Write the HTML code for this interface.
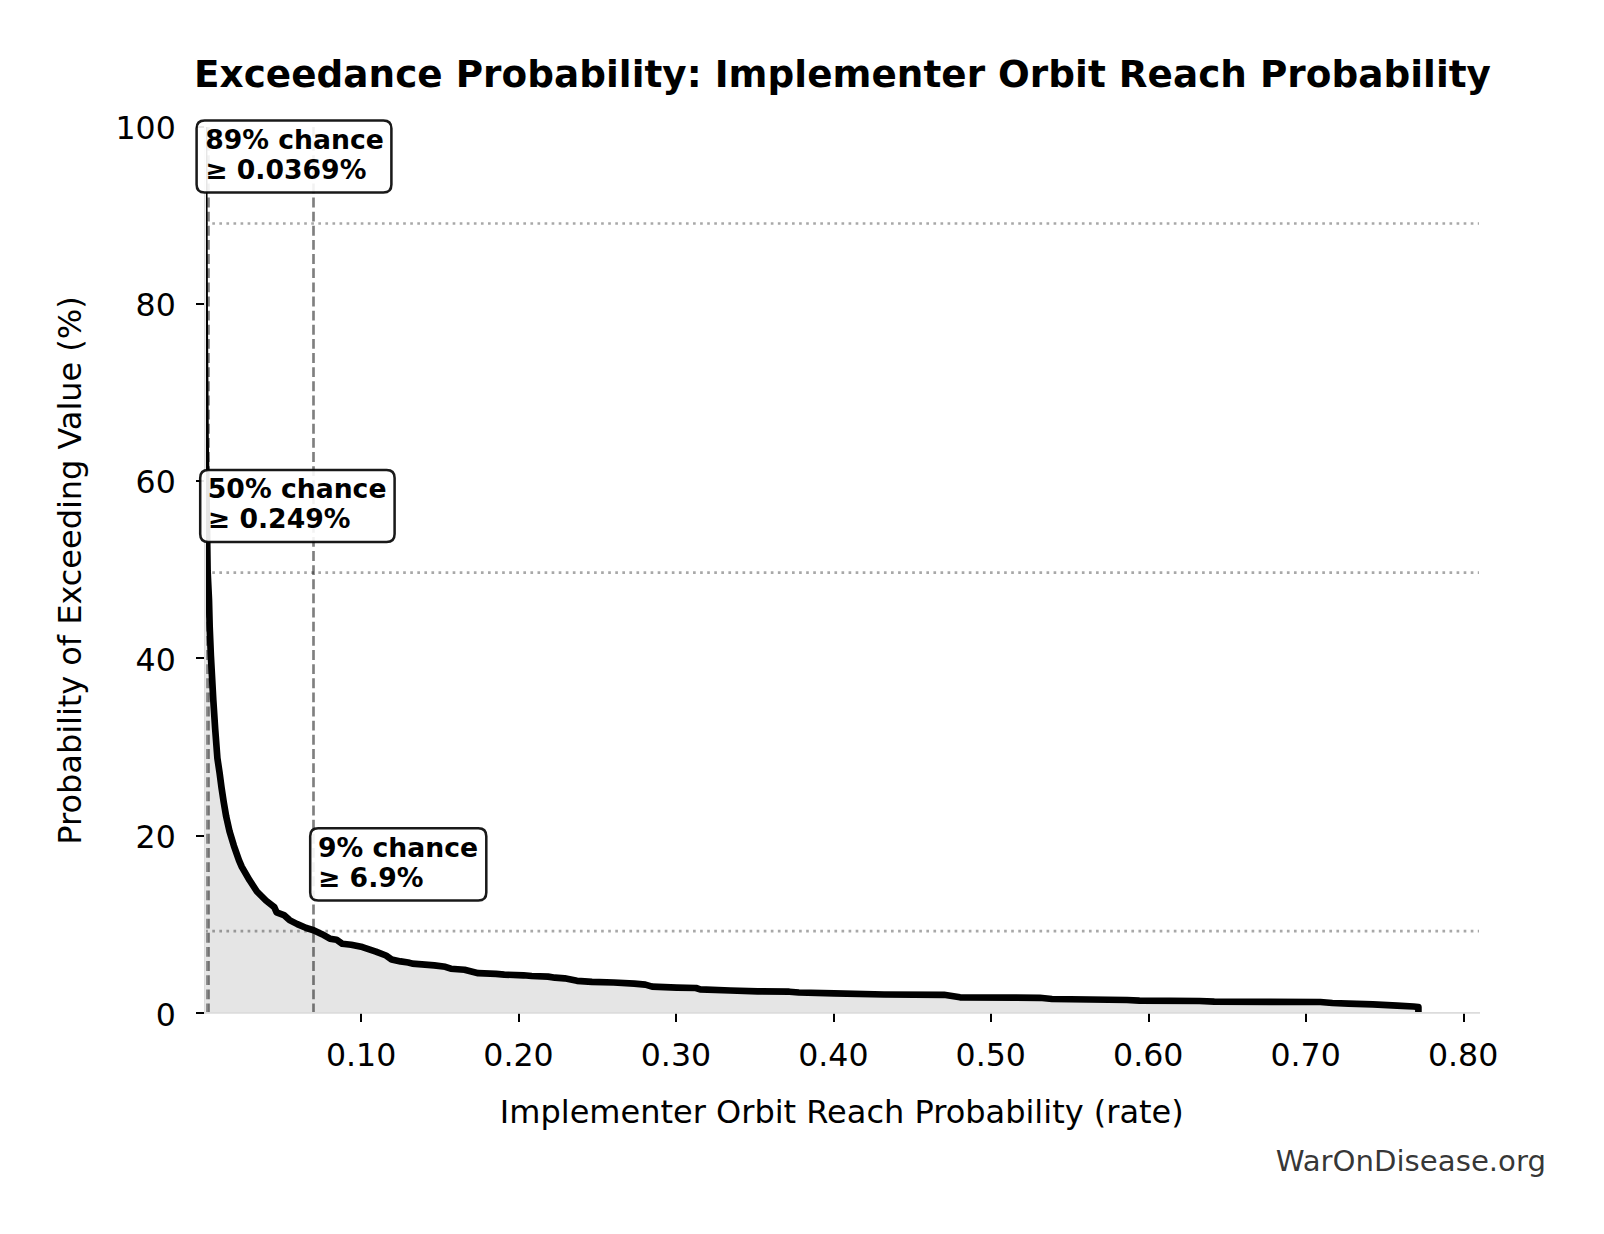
<!DOCTYPE html>
<html><head><meta charset="utf-8">
<style>
html,body{margin:0;padding:0;background:#fff;}
body{width:1604px;height:1234px;overflow:hidden;}
svg{display:block;}
text{font-family:"DejaVu Sans","Liberation Sans",sans-serif;fill:#000;}
.tk{font-size:31.6px;}
.an{font-size:26.67px;font-weight:bold;}
</style></head><body>
<svg width="1604" height="1234" viewBox="0 0 1604 1234">
<defs><clipPath id="ax"><rect x="206" y="123.0" width="1274.0" height="889.0"/></clipPath><clipPath id="axf"><rect x="205.4" y="123.0" width="1274.6" height="889.3"/></clipPath></defs>
<rect width="1604" height="1234" fill="#fff"/>
<polygon clip-path="url(#axf)" points="204.0,127.0 204.3,224.0 204.7,330.0 205.5,440.0 206.9,520.0 207.6,571.0 209.0,600.0 209.7,627.0 210.9,656.0 213.3,700.0 215.2,729.2 217.4,758.3 219.6,772.9 221.5,787.5 223.7,802.1 226.2,816.6 229.5,831.2 233.9,845.8 239.0,860.4 241.8,866.8 249.6,880.3 256.9,891.5 265.9,900.5 274.3,907.2 276.6,912.3 283.9,915.1 289.5,920.1 297.3,924.1 306.3,928.0 313.6,930.2 322.0,934.2 329.9,938.7 336.6,939.8 342.2,943.7 351.2,944.8 362.4,947.1 375.9,951.6 386.0,955.5 391.6,959.4 400.6,961.4 408.2,962.5 412.3,963.6 421.9,964.3 434.3,965.4 445.3,966.8 450.8,968.7 464.5,969.8 478.2,973.2 496.0,973.9 504.3,974.6 523.5,975.3 531.7,976.0 548.1,976.6 555.0,977.7 564.6,978.3 577.0,980.8 592.0,981.9 613.7,982.5 634.3,983.6 645.3,984.6 652.1,986.6 676.8,987.6 696.0,988.0 700.1,989.4 730.3,990.5 757.8,991.4 789.3,991.7 798.9,992.5 834.3,993.3 884.2,994.5 944.0,994.8 960.0,997.3 1039.8,997.8 1052.0,999.0 1127.0,1000.0 1139.5,1000.7 1199.4,1001.0 1214.3,1001.7 1320.3,1002.0 1332.4,1003.0 1348.6,1003.6 1372.9,1004.4 1397.2,1005.7 1413.5,1006.5 1418.4,1007.0 1418.4,1012.5 1418.4,1013.0 204.0,1013.0" fill="#000" fill-opacity="0.1"/>
<g clip-path="url(#ax)">

<line x1="205.40" y1="1013.4" x2="205.40" y2="127.0" stroke="#000" stroke-opacity="0.5" stroke-width="2.67" stroke-dasharray="9.87 4.27"/>
<line x1="208.50" y1="1013.4" x2="208.50" y2="127.0" stroke="#000" stroke-opacity="0.5" stroke-width="2.67" stroke-dasharray="9.87 4.27"/>
<line x1="313.50" y1="1013.4" x2="313.50" y2="127.0" stroke="#000" stroke-opacity="0.5" stroke-width="2.67" stroke-dasharray="9.87 4.27"/>
<line x1="205.2" y1="223.50" x2="1479.0" y2="223.50" stroke="#000" stroke-opacity="0.34" stroke-width="2.67" stroke-dasharray="2.67 4.40"/>
<line x1="205.2" y1="572.70" x2="1479.0" y2="572.70" stroke="#000" stroke-opacity="0.34" stroke-width="2.67" stroke-dasharray="2.67 4.40"/>
<line x1="205.2" y1="931.20" x2="1479.0" y2="931.20" stroke="#000" stroke-opacity="0.34" stroke-width="2.67" stroke-dasharray="2.67 4.40"/>
<polyline points="204.0,127.0 204.3,224.0 204.7,330.0 205.5,440.0 206.9,520.0 207.6,571.0 209.0,600.0 209.7,627.0 210.9,656.0 213.3,700.0 215.2,729.2 217.4,758.3 219.6,772.9 221.5,787.5 223.7,802.1 226.2,816.6 229.5,831.2 233.9,845.8 239.0,860.4 241.8,866.8 249.6,880.3 256.9,891.5 265.9,900.5 274.3,907.2 276.6,912.3 283.9,915.1 289.5,920.1 297.3,924.1 306.3,928.0 313.6,930.2 322.0,934.2 329.9,938.7 336.6,939.8 342.2,943.7 351.2,944.8 362.4,947.1 375.9,951.6 386.0,955.5 391.6,959.4 400.6,961.4 408.2,962.5 412.3,963.6 421.9,964.3 434.3,965.4 445.3,966.8 450.8,968.7 464.5,969.8 478.2,973.2 496.0,973.9 504.3,974.6 523.5,975.3 531.7,976.0 548.1,976.6 555.0,977.7 564.6,978.3 577.0,980.8 592.0,981.9 613.7,982.5 634.3,983.6 645.3,984.6 652.1,986.6 676.8,987.6 696.0,988.0 700.1,989.4 730.3,990.5 757.8,991.4 789.3,991.7 798.9,992.5 834.3,993.3 884.2,994.5 944.0,994.8 960.0,997.3 1039.8,997.8 1052.0,999.0 1127.0,1000.0 1139.5,1000.7 1199.4,1001.0 1214.3,1001.7 1320.3,1002.0 1332.4,1003.0 1348.6,1003.6 1372.9,1004.4 1397.2,1005.7 1413.5,1006.5 1418.4,1007.0 1418.4,1012.5" fill="none" stroke="#000" stroke-width="6.67" stroke-linejoin="round" stroke-linecap="butt"/>
</g>
<rect x="204" y="126.3" width="1.45" height="887.40" fill="#dcdcdc"/>
<rect x="204" y="1012" width="1276.0" height="1.75" fill="#dcdcdc"/>
<rect x="360" y="1013.8" width="2" height="8.2" fill="#000"/>
<text class="tk" x="361.08" y="1065.5" text-anchor="middle">0.10</text>
<rect x="518" y="1013.8" width="2" height="8.2" fill="#000"/>
<text class="tk" x="518.51" y="1065.5" text-anchor="middle">0.20</text>
<rect x="675" y="1013.8" width="2" height="8.2" fill="#000"/>
<text class="tk" x="675.94" y="1065.5" text-anchor="middle">0.30</text>
<rect x="833" y="1013.8" width="2" height="8.2" fill="#000"/>
<text class="tk" x="833.37" y="1065.5" text-anchor="middle">0.40</text>
<rect x="990" y="1013.8" width="2" height="8.2" fill="#000"/>
<text class="tk" x="990.80" y="1065.5" text-anchor="middle">0.50</text>
<rect x="1148" y="1013.8" width="2" height="8.2" fill="#000"/>
<text class="tk" x="1148.23" y="1065.5" text-anchor="middle">0.60</text>
<rect x="1305" y="1013.8" width="2" height="8.2" fill="#000"/>
<text class="tk" x="1305.66" y="1065.5" text-anchor="middle">0.70</text>
<rect x="1463" y="1013.8" width="2" height="8.2" fill="#000"/>
<text class="tk" x="1463.09" y="1065.5" text-anchor="middle">0.80</text>
<rect x="196" y="1012" width="8" height="2" fill="#000"/>
<text class="tk" x="175.8" y="1025.90" text-anchor="end">0</text>
<rect x="196" y="835" width="8" height="2" fill="#000"/>
<text class="tk" x="175.8" y="847.60" text-anchor="end">20</text>
<rect x="196" y="657" width="8" height="2" fill="#000"/>
<text class="tk" x="175.8" y="671.30" text-anchor="end">40</text>
<rect x="196" y="480" width="8" height="2" fill="#000"/>
<text class="tk" x="175.8" y="493.00" text-anchor="end">60</text>
<rect x="196" y="303" width="8" height="2" fill="#000"/>
<text class="tk" x="175.8" y="315.70" text-anchor="end">80</text>
<rect x="196" y="126" width="8" height="2" fill="#000"/>
<text class="tk" x="175.8" y="139.40" text-anchor="end">100</text>
<path d="M204.6,120.5 L383.4,120.5 Q391.4,120.5 391.4,128.5 L391.4,184.6 Q391.4,192.6 383.4,192.6 L204.6,192.6 Q196.6,192.6 196.6,184.6 L196.6,128.5 Q196.6,120.5 204.6,120.5 Z" fill="#fff" fill-opacity="0.9" stroke="#000" stroke-opacity="0.9" stroke-width="2.53"/>
<text class="an" x="205.2" y="149.1">89% chance</text>
<text class="an" x="205.2" y="178.9">≥ 0.0369%</text>
<path d="M208.2,470.0 L386.6,470.0 Q394.6,470.0 394.6,478.0 L394.6,534.1 Q394.6,542.1 386.6,542.1 L208.2,542.1 Q200.2,542.1 200.2,534.1 L200.2,478.0 Q200.2,470.0 208.2,470.0 Z" fill="#fff" fill-opacity="0.9" stroke="#000" stroke-opacity="0.9" stroke-width="2.53"/>
<text class="an" x="207.8" y="497.8">50% chance</text>
<text class="an" x="207.8" y="527.6">≥ 0.249%</text>
<path d="M318.2,828.3 L478.3,828.3 Q486.3,828.3 486.3,836.3 L486.3,892.4 Q486.3,900.4 478.3,900.4 L318.2,900.4 Q310.2,900.4 310.2,892.4 L310.2,836.3 Q310.2,828.3 318.2,828.3 Z" fill="#fff" fill-opacity="0.9" stroke="#000" stroke-opacity="0.9" stroke-width="2.53"/>
<text class="an" x="318.0" y="856.9">9% chance</text>
<text class="an" x="318.0" y="886.7">≥ 6.9%</text>
<text id="title" x="842.5" y="87.2" font-size="37.33" font-weight="bold" text-anchor="middle" textLength="1296.9" lengthAdjust="spacing">Exceedance Probability: Implementer Orbit Reach Probability</text>
<text id="xlabel" x="841.8" y="1123.3" font-size="32.00" text-anchor="middle">Implementer Orbit Reach Probability (rate)</text>
<text id="ylabel" transform="translate(80.5,570.5) rotate(-90)" font-size="32.00" text-anchor="middle" textLength="548.3" lengthAdjust="spacing">Probability of Exceeding Value (%)</text>
<text id="wm" x="1546" y="1171" font-size="29.2" text-anchor="end" fill="#000" fill-opacity="0.8">WarOnDisease.org</text>
</svg>
</body></html>
